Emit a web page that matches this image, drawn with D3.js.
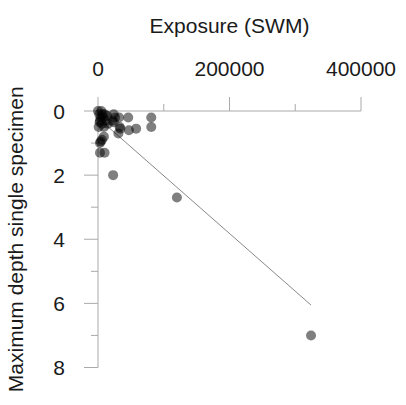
<!DOCTYPE html>
<html><head><meta charset="utf-8">
<script src="https://cdn.jsdelivr.net/npm/d3@7"></script>
<style>body{margin:0;background:#fff}svg{display:block}text{font-family:"Liberation Sans",Arial,sans-serif;fill:#1a1a1a}</style>
</head><body><div id="chart"></div>
<script>
// Exposure (SWM) values
const exposure = [0,2000,5000,8000,3000,10000,6000,12000,1000,4000,15000,9000,7000,2500,14000,
  24000,26000,24000,22000,32000,33000,34000,31000,46000,47000,58000,81000,81000,
  9000,3000,4000,6000,3000,10000,23000,120000,324000];
// Maximum depth single specimen
const depth = [0,0.1,0,0.2,0.3,0.1,0.4,0.3,0.5,0.2,0.4,0.5,0.1,0.35,0.15,
  0.1,0.2,0.35,0.3,0.2,0.5,0.55,0.7,0.2,0.6,0.55,0.2,0.5,
  0.8,1.0,0.95,0.9,1.3,1.3,2.0,2.7,7.0];
// fitted regression line
const intercept = 0.22, slope = 1.8e-5;
const xTicks = [0,100000,200000,300000,400000];
const xLabels = ["0","","200000","","400000"];
const yTicks = [0,1,2,3,4,5,6,7,8];
const yLabels = ["0","","2","","4","","6","","8"];

const W=406,H=405;
const svg=d3.select("#chart").append("svg").attr("width",W).attr("height",H);
const x=d3.scaleLinear().domain([0,400000]).range([98,361]);
const y=d3.scaleLinear().domain([0,8]).range([111,367.5]);
const axCol="#aaa";

// x axis (top)
const gx=svg.append("g");
gx.append("line").attr("x1",x(0)).attr("x2",x(400000)).attr("y1",y(0)).attr("y2",y(0)).attr("stroke",axCol);
xTicks.forEach((t,i)=>{
  const major=xLabels[i]!=="";
  gx.append("line").attr("x1",x(t)).attr("x2",x(t)).attr("y1",y(0)).attr("y2",y(0)-(major?14:7)).attr("stroke",axCol);
  if(major) gx.append("text").attr("x",x(t)).attr("y",76).attr("text-anchor","middle").attr("font-size",21).text(xLabels[i]);
});
svg.append("text").attr("x",(x(0)+x(400000))/2).attr("y",33).attr("text-anchor","middle").attr("font-size",21).text("Exposure (SWM)");

// y axis (left)
const gy=svg.append("g");
gy.append("line").attr("x1",x(0)).attr("x2",x(0)).attr("y1",y(0)).attr("y2",y(8)).attr("stroke",axCol);
yTicks.forEach((t,i)=>{
  const major=yLabels[i]!=="";
  gy.append("line").attr("x1",x(0)).attr("x2",x(0)-(major?14:7)).attr("y1",y(t)).attr("y2",y(t)).attr("stroke",axCol);
  if(major) gy.append("text").attr("x",65).attr("y",y(t)).attr("dy","0.36em").attr("text-anchor","end").attr("font-size",21).text(yLabels[i]);
});
svg.append("text").attr("transform",`translate(23,${(y(0)+y(8))/2}) rotate(-90)`).attr("text-anchor","middle").attr("font-size",21).text("Maximum depth single specimen");

// regression line
const xmin=d3.min(exposure), xmax=d3.max(exposure);
svg.append("line").attr("x1",x(xmin)).attr("y1",y(intercept+slope*xmin)).attr("x2",x(xmax)).attr("y2",y(intercept+slope*xmax)).attr("stroke","#888").attr("stroke-width",1);

// points
svg.append("g").selectAll("circle").data(exposure.map((e,i)=>[e,depth[i]])).join("circle")
  .attr("cx",d=>x(d[0])).attr("cy",d=>y(d[1])).attr("r",5).attr("fill","#000").attr("fill-opacity",0.5);
</script></body></html>
